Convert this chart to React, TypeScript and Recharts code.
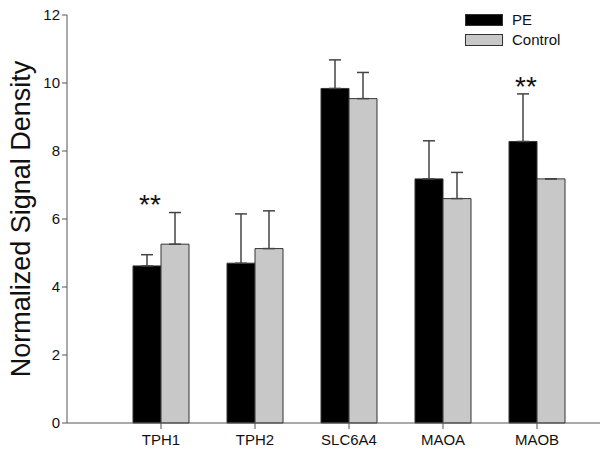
import React from 'react';
import {
  BarChart, Bar, XAxis, YAxis, ErrorBar, ReferenceDot, Label,
} from 'recharts';

const genes = ['TPH1', 'TPH2', 'SLC6A4', 'MAOA', 'MAOB'];
const peValues = [4.62, 4.7, 9.84, 7.18, 8.28];
const peErrors = [0.33, 1.45, 0.84, 1.12, 1.4];
const controlValues = [5.26, 5.13, 9.54, 6.6, 7.18];
const controlErrors = [0.93, 1.11, 0.77, 0.77, 0];
const yTicks = [0, 2, 4, 6, 8, 10, 12];

// significance markers: gene + height of the "**"
const sigGenes = ['TPH1', 'MAOB'];
const sigHeights = [6.62, 10.09];

const data = genes.map((g, i) => ({
  gene: g,
  pe: peValues[i],
  peErr: [0, peErrors[i]],
  control: controlValues[i],
  controlErr: [0, controlErrors[i]],
}));

const FONT = 'Liberation Sans, Arial, sans-serif';
const AXIS = '#555';

const Stars = (props: any) => {
  const { cx, cy } = props;
  if (cx == null || cy == null) return null;
  return (
    <text x={cx - 11} y={cy + 16} textAnchor="middle" fontSize={28} fontFamily={FONT} fill="#111">
      **
    </text>
  );
};

const YTitle = (props: any) => {
  const vb = props.viewBox;
  const x = 21;
  const y = vb.y + vb.height / 2;
  return (
    <text
      x={x}
      y={y}
      transform={`rotate(-90, ${x}, ${y})`}
      textAnchor="middle"
      dominantBaseline="central"
      fontSize={27}
      fontFamily={FONT}
      fill="#111"
    >
      Normalized Signal Density
    </text>
  );
};

export default function App() {
  return (
    <div style={{ position: 'absolute', left: 0, top: 0, width: 600, height: 453, background: '#fff' }}>
      <BarChart
        width={600}
        height={453}
        data={data}
        margin={{ top: 15, right: 0, bottom: 0, left: 0 }}
        barGap={0}
        barSize={28}
      >
        <XAxis
          dataKey="gene"
          padding={{ left: 47, right: 16 }}
          height={30}
          stroke={AXIS}
          tickSize={6}
          tick={{ fill: '#111', fontSize: 15, fontFamily: FONT, dy: 3 }}
        />
        <YAxis
          domain={[0, 12]}
          ticks={yTicks}
          width={67}
          stroke={AXIS}
          tickSize={5}
          interval={0}
          tick={{ fill: '#111', fontSize: 15, fontFamily: FONT }}
        >
          <Label content={<YTitle />} />
        </YAxis>
        <Bar dataKey="pe" name="PE" fill="#000" stroke="#333" isAnimationActive={false}>
          <ErrorBar dataKey="peErr" width={6} stroke="#444" strokeWidth={1.5} direction="y" />
        </Bar>
        <Bar dataKey="control" name="Control" fill="#c8c8c8" stroke="#333" isAnimationActive={false}>
          <ErrorBar dataKey="controlErr" width={6} stroke="#444" strokeWidth={1.5} direction="y" />
        </Bar>
        {sigGenes.map((g, i) => (
          <ReferenceDot key={g} x={g} y={sigHeights[i]} r={0} shape={<Stars />} />
        ))}
      </BarChart>
      <div style={{ position: 'absolute', left: 465, top: 10, fontFamily: FONT, fontSize: 15, color: '#111', lineHeight: '20px' }}>
        <div style={{ display: 'flex', alignItems: 'center' }}>
          <span style={{ display: 'inline-block', width: 36, height: 10, background: '#000', border: '1px solid #333', marginRight: 9 }} />
          PE
        </div>
        <div style={{ display: 'flex', alignItems: 'center' }}>
          <span style={{ display: 'inline-block', width: 36, height: 10, background: '#c8c8c8', border: '1px solid #333', marginRight: 9 }} />
          Control
        </div>
      </div>
    </div>
  );
}
